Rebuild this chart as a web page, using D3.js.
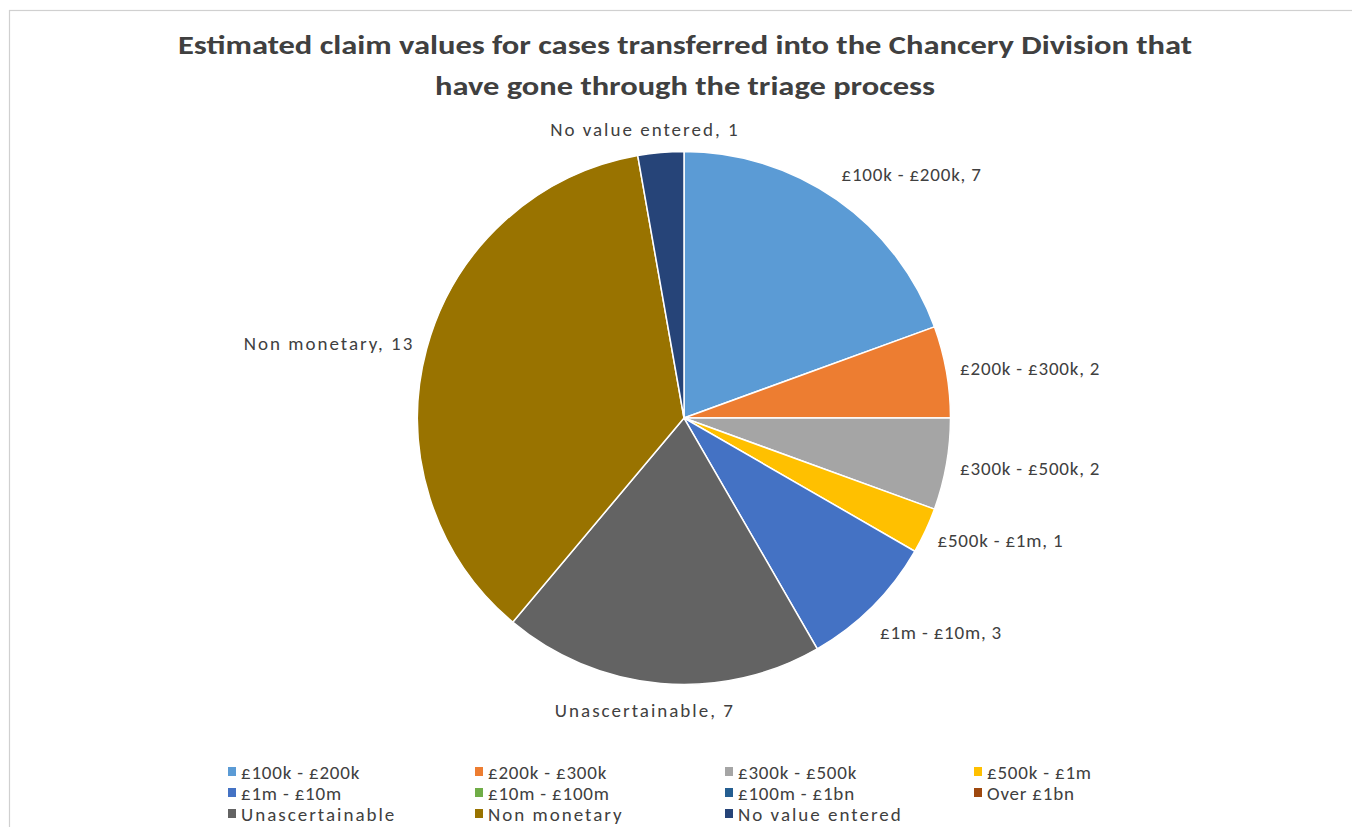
<!DOCTYPE html>
<html><head><meta charset="utf-8">
<script src="https://cdn.jsdelivr.net/npm/d3@7"></script>
<style>
body{margin:0;background:#fff;}
svg{display:block;}
text{font-family:Carlito,"Open Sans","Liberation Sans",sans-serif;fill:#404040;}
</style></head><body>
<svg id="c" width="1352" height="827"></svg>
<script>
const categories = ["£100k - £200k","£200k - £300k","£300k - £500k","£500k - £1m","£1m - £10m","£10m - £100m","£100m - £1bn","Over £1bn","Unascertainable","Non monetary","No value entered"];
const values = [7,2,2,1,3,0,0,0,7,13,1];
const colors = ["#5B9BD5","#ED7D31","#A5A5A5","#FFC000","#4472C4","#70AD47","#255E91","#9E480E","#636363","#997300","#264478"];
const titleLines = ["Estimated claim values for cases transferred into the Chancery Division that","have gone through the triage process"];

const svg = d3.select("#c");
const W = 1352, H = 827;
svg.append("rect").attr("x",9.5).attr("y",10.5).attr("width",W).attr("height",H).attr("fill","#fff").attr("stroke","#d0d0d0").attr("stroke-width",1.2);

const title = svg.append("g");
titleLines.forEach((t,i)=>{
  const tx = title.append("text").attr("x",685).attr("y",54+i*41).attr("text-anchor","middle")
    .attr("font-size",27).attr("font-weight","bold").attr("fill","#404040").text(t);
  const targetW = i===0 ? 1014 : 500;
  tx.attr("textLength",targetW).attr("lengthAdjust","spacingAndGlyphs");
});

const spacing = t => t.includes("£") ? 0.8 : 2.0;

const cx = 684, cy = 418, r = 266.5;
const data = categories.map((c,i)=>({cat:c,value:values[i],color:colors[i]}));
const pie = d3.pie().sort(null).value(d=>d.value).startAngle(0).endAngle(2*Math.PI);
const arcs = pie(data);
const arc = d3.arc().innerRadius(0).outerRadius(r);
const g = svg.append("g").attr("transform",`translate(${cx},${cy})`);
g.selectAll("path").data(arcs.filter(a=>a.data.value>0)).join("path")
  .attr("d",arc).attr("fill",d=>d.data.color).attr("stroke","#fff").attr("stroke-width",1.5);

// labels
const lab = svg.append("g");
arcs.filter(a=>a.data.value>0).forEach(a=>{
  const m = (a.startAngle+a.endAngle)/2;
  const s = Math.sin(m), c = Math.cos(m);
  const d = 22;
  let x = cx + (r+d)*s, y = cy - (r+d)*c;
  let anchor = "middle";
  if (s > 0.35) { anchor = "start"; x -= 8; if (c > 0.5) y -= 7; }
  else if (s < -0.35) { anchor = "end"; x += 9; }
  if (c < -0.5) y += 10;
  if (Math.abs(s) <= 0.35) { x -= 14; y += (c>0 ? -1 : -5); }
  lab.append("text").attr("x",x).attr("y",y).attr("dy","0.35em").attr("text-anchor",anchor)
    .attr("font-size",19).attr("letter-spacing",spacing(a.data.cat)).text(`${a.data.cat}, ${a.data.value}`);
});

// legend
const colX = [228,475,725,974], rowY = [772,793,814];
const leg = svg.append("g");
data.forEach((d,i)=>{
  const col = i%4, row = Math.floor(i/4);
  const gg = leg.append("g").attr("transform",`translate(${colX[col]},${rowY[row]})`);
  gg.append("rect").attr("x",0).attr("y",-5).attr("width",8).attr("height",9).attr("fill",d.color);
  gg.append("text").attr("x",13).attr("y",0).attr("dy","0.35em").attr("font-size",19).attr("letter-spacing",spacing(d.cat)).text(d.cat);
});
</script></body></html>
